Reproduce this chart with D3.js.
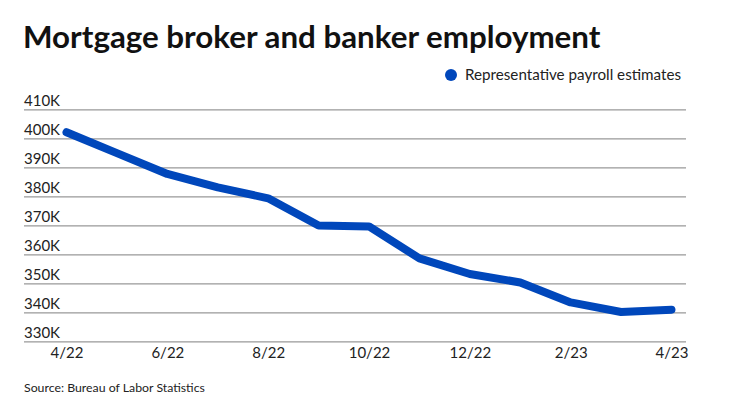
<!DOCTYPE html>
<html>
<head>
<meta charset="utf-8">
<script src="https://cdn.jsdelivr.net/npm/d3@7"></script>
<style>
  html, body { margin: 0; padding: 0; background: #fff; }
  svg { display: block; font-family: Lato, "Open Sans", sans-serif; }
</style>
</head>
<body>
<svg id="chart" width="740" height="416"></svg>
<script>
const months = ["4/22","5/22","6/22","7/22","8/22","9/22","10/22","11/22","12/22","1/23","2/23","3/23","4/23"];
const payroll = [402.1, 394.9, 387.7, 383.1, 379.3, 369.9, 369.6, 358.6, 353.2, 350.3, 343.4, 340.1, 340.9];
const xTickLabels = ["4/22","6/22","8/22","10/22","12/22","2/23","4/23"];
const yTicks = [330, 340, 350, 360, 370, 380, 390, 400, 410];

const svg = d3.select("#chart");
const plotLeft = 24, plotRight = 686, plotTop = 109.3, plotBottom = 341.3;

const x = d3.scalePoint().domain(months).range([66.5, 671.5]);
const y = d3.scaleLinear().domain([330, 410]).range([plotBottom, plotTop]);

// Title
svg.append("text").attr("x", 23).attr("y", 48)
  .attr("font-size", 31.3).attr("font-weight", 700).attr("fill", "#111")
  .text("Mortgage broker and banker employment");

// Legend
svg.append("circle").attr("cx", 451).attr("cy", 75).attr("r", 6).attr("fill", "#0047BB");
svg.append("text").attr("x", 465).attr("y", 80).attr("font-size", 15.2).attr("fill", "#222")
  .text("Representative payroll estimates");

// Y grid + labels
const yAxis = d3.axisLeft(y).tickValues(yTicks).tickSize(-(plotRight - plotLeft)).tickFormat(d => d + "K");
const gy = svg.append("g").attr("transform", `translate(${plotLeft},0)`).call(yAxis);
gy.select(".domain").remove();
gy.selectAll(".tick line").attr("stroke", "#999").attr("stroke-width", 1.2);
gy.selectAll(".tick text")
  .attr("x", 0).attr("dy", "-4").attr("text-anchor", "start")
  .attr("font-size", 15).attr("fill", "#222").attr("font-family", "Lato, sans-serif");

// X labels
const xAxis = d3.axisBottom(x).tickValues(xTickLabels).tickSize(0).tickPadding(0);
const gx = svg.append("g").attr("transform", `translate(0,${plotBottom})`).call(xAxis);
gx.select(".domain").remove();
gx.selectAll(".tick text").attr("y", 6).attr("dy", "0.71em")
  .attr("font-size", 15).attr("fill", "#222").attr("font-family", "Lato, sans-serif");

// Line
const line = d3.line().x((d, i) => x(months[i])).y(d => y(d));
svg.append("path").datum(payroll).attr("d", line)
  .attr("fill", "none").attr("stroke", "#0047BB").attr("stroke-width", 8)
  .attr("stroke-linejoin", "round").attr("stroke-linecap", "round");

// Source
svg.append("text").attr("x", 24).attr("y", 392).attr("font-size", 12.3).attr("fill", "#222")
  .text("Source: Bureau of Labor Statistics");
</script>
</body>
</html>
